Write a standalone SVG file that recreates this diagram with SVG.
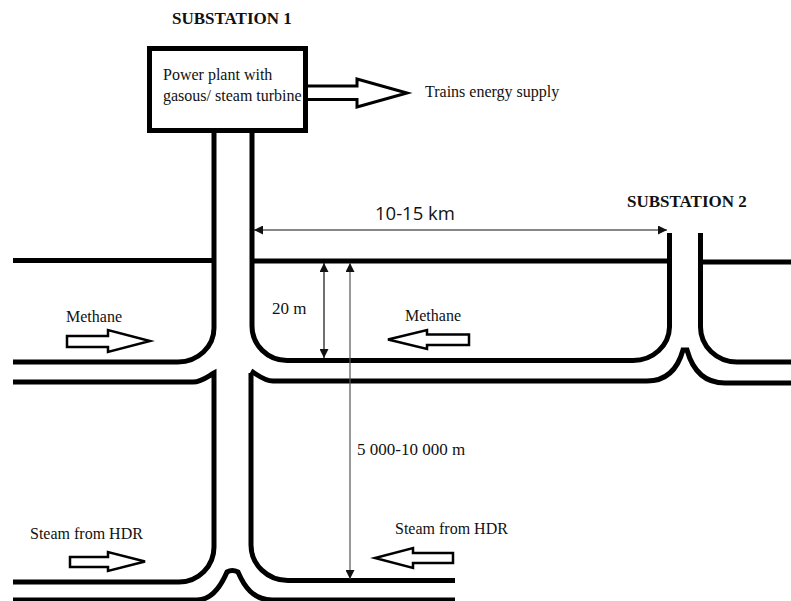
<svg xmlns="http://www.w3.org/2000/svg" width="791" height="601" viewBox="0 0 791 601">
<style>
.pipe{fill:none;stroke:#000;stroke-width:5}
.flow{fill:#fff;stroke:#000;stroke-width:3;stroke-linejoin:miter}
.dim{fill:none;stroke:#111;stroke-width:1.2;marker-start:url(#ah);marker-end:url(#ah)}
.t{font-family:"Liberation Serif",serif;font-size:16px;fill:#111}
.b{font-weight:bold;font-size:17px}
.n{font-size:17px}
.s{font-family:"Open Sans","Liberation Sans",sans-serif;font-size:18.500px;fill:#111}
</style>
<defs>
<marker id="ah" viewBox="0 0 10 10" refX="10" refY="5" markerWidth="9" markerHeight="9" markerUnits="userSpaceOnUse" orient="auto-start-reverse"><path d="M0 0L10 5L0 10Z" fill="#111"/></marker>
</defs>
<rect width="791" height="601" fill="#fff"/>
<g id="connectors">
<path class="pipe" d="M214 133V328A36 34 0 0 1 178 362H13"/>
<path class="pipe" d="M13 260.500H212"/>
<path class="pipe" d="M252 133V326A35 34.500 0 0 0 287 360.500H633A36.500 34 0 0 0 669.500 327V233"/>
<path class="pipe" d="M254 261H668"/>
<path class="pipe" d="M700.500 233V327A36.500 35 0 0 0 737 362H791"/>
<path class="pipe" d="M703 262H791"/>
<path class="pipe" d="M13 382H193C201 382 207 377 214 373V547A35 35 0 0 1 179 582H13"/>
<path class="pipe" d="M251 371C258 375 264 381 273 381H647C667 381 678 368 683 350H687C692 368 703 383 725 383H791"/>
<path class="pipe" d="M251 373V545A37 35.500 0 0 0 288 580.500H455"/>
<path class="pipe" d="M13 600H197C212 600 221 586 227 572Q232 569 238 572C244 586 253 600 272 600H455"/>
<path class="dim" d="M254 230H667"/>
<path class="dim" d="M324 263V358"/>
<path class="dim" d="M350 263V579" style="stroke:#555"/>
</g>
<g id="substation-1">
<rect x="149.500" y="48.500" width="156" height="82" fill="#fff" stroke="#000" stroke-width="5"/>
<text class="t b" x="172" y="24">SUBSTATION 1</text>
<text class="t" x="163" y="80">Power plant with</text>
<text class="t" x="163" y="101">gasous/ steam turbine</text>
</g>
<g id="energy-arrow">
<path class="flow" d="M308 86H357V79L407 93L357 107V99.500H308"/>
<text class="t" x="425" y="97">Trains energy supply</text>
</g>
<g id="substation-2"><text class="t b" x="627" y="207">SUBSTATION 2</text></g>
<g id="methane-left">
<path class="flow" style="stroke-width:2.500" d="M67 336H108V330L150 341L108 352V347H67Z"/>
<text class="t" x="66" y="322">Methane</text>
</g>
<g id="methane-right">
<path class="flow" style="stroke-width:2.500" d="M469 334.500H427V330L388 339.500L427 349V345H469Z"/>
<text class="t" x="405" y="321">Methane</text>
</g>
<g id="steam-left">
<path class="flow" style="stroke-width:2.500" d="M70 557H108V552L145 561.500L108 571V567H70Z"/>
<text class="t" x="30" y="539">Steam from HDR</text>
</g>
<g id="steam-right">
<path class="flow" style="stroke-width:2.500" d="M453 553H413V548L375 558L413 568V563H453Z"/>
<text class="t" x="395" y="534">Steam from HDR</text>
</g>
<g id="labels">
<text class="s" x="375" y="220">10-15 km</text>
<text class="t n" x="272" y="314">20 m</text>
<text class="t n" x="357" y="455">5 000-10 000 m</text>
</g>
</svg>
